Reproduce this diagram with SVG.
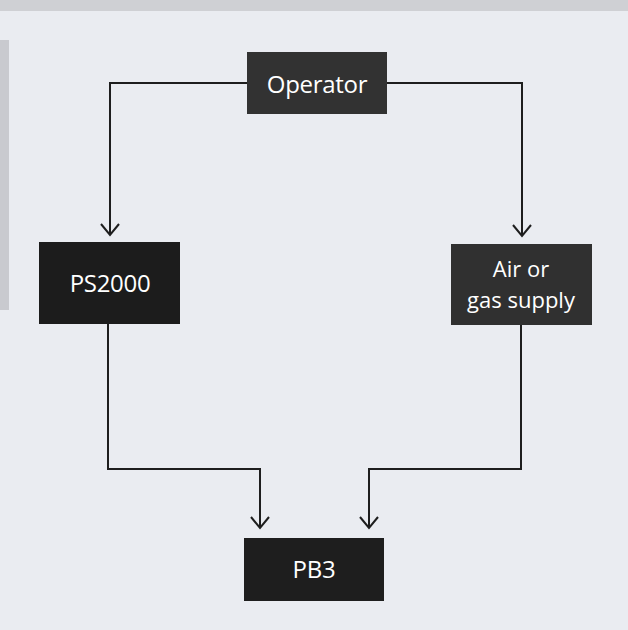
<svg xmlns="http://www.w3.org/2000/svg" width="628" height="630" viewBox="0 0 628 630">
<style>
.lbl{fill:#ffffff;font-family:"Open Sans","Noto Sans","DejaVu Sans",sans-serif;font-size:24px;text-anchor:middle;letter-spacing:-0.3px}
.sm{font-size:22px;letter-spacing:0}
.wire{fill:none;stroke:#1e1e1e;stroke-width:2}
</style>
<rect width="628" height="630" fill="#eaecf1"/>
<rect x="0" y="0" width="628" height="11" fill="#cfd0d4"/>
<rect x="0" y="40" width="9" height="270" fill="#c9cacf"/>
<g id="connectors">
<path class="wire" d="M247 83 H110 V235"/>
<path class="wire" d="M101 224 L110 235 L119 224"/>
<path class="wire" d="M387 83 H522 V236"/>
<path class="wire" d="M513 225 L522 236 L531 225"/>
<path class="wire" d="M108 324 V469 H260 V528"/>
<path class="wire" d="M251 517 L260 528 L269 517"/>
<path class="wire" d="M521 325 V469 H369 V528"/>
<path class="wire" d="M360 517 L369 528 L378 517"/>
</g>
<g id="operator">
<rect x="247" y="52" width="140" height="62" fill="#323232"/>
<text class="lbl" x="317" y="93">Operator</text>
</g>
<g id="ps2000">
<rect x="39" y="242" width="141" height="82" fill="#1c1c1c"/>
<text class="lbl" x="110" y="292">PS2000</text>
</g>
<g id="air">
<rect x="451" y="244" width="141" height="81" fill="#303030"/>
<text class="lbl sm" x="521" y="277">Air or</text>
<text class="lbl sm" x="521" y="308">gas supply</text>
</g>
<g id="pb3">
<rect x="244" y="538" width="140" height="63" fill="#1e1e1e"/>
<text class="lbl" x="314" y="578">PB3</text>
</g>
</svg>
